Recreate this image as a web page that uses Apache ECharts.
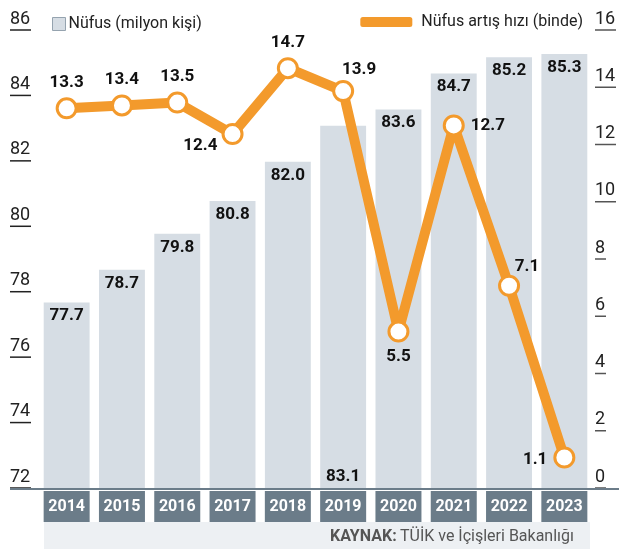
<!DOCTYPE html>
<html>
<head>
<meta charset="utf-8">
<title>Nüfus ve nüfus artış hızı</title>
<script src="https://cdn.jsdelivr.net/npm/echarts@6/dist/echarts.min.js"></script>
<style>
  html, body { margin: 0; padding: 0; background: #fff; }
  #chart { width: 619px; height: 549px; }
</style>
</head>
<body>
<div id="chart"></div>
<script>
// veriler
const years = ['2014', '2015', '2016', '2017', '2018', '2019', '2020', '2021', '2022', '2023']
const population = [77.7, 78.7, 79.8, 80.8, 82.0, 83.1, 83.6, 84.7, 85.2, 85.3]
const growthRate = [13.3, 13.4, 13.5, 12.4, 14.7, 13.9, 5.5, 12.7, 7.1, 1.1]
const popTicks = [72, 74, 76, 78, 80, 82, 84, 86]
const rateTicks = [0, 2, 4, 6, 8, 10, 12, 14, 16]

const FONT = 'Roboto'
const ORANGE = '#f39a2c'
const BAR = '#d6dde4'
const SLATE = '#6b7c89'

// etiket yerleşimleri (nokta başına)
const rateLabelPos = ['top', 'top', 'top', 'left', 'top', 'top', 'bottom', 'right', 'top', 'left']
const rateLabelOffset = [[0, 0], [0, 0], [0, 0], [2, 12], [0, 0], [16, 4], [0, 0], [0, 0], [18, 6], [0, 2]]

// altı çizili eksen etiketi
const tickLabel = (val) => `{v|${val}}\n{u${String(val).length}| }`
const tickRich = (color) => ({
  v: { fontFamily: FONT, fontSize: 18, lineHeight: 20, color: '#222' },
  u1: { width: 11, height: 1.5, lineHeight: 2, fontSize: 1, backgroundColor: color },
  u2: { width: 21, height: 1.5, lineHeight: 2, fontSize: 1, backgroundColor: color }
})

const chart = echarts.init(document.getElementById('chart'))

const option = {
  animation: false,
  textStyle: { fontFamily: FONT },
  grid: { left: 39, right: 24, top: 31, bottom: 60 },
  legend: [
    {
      data: ['Nüfus (milyon kişi)'],
      left: 47, top: 11,
      icon: 'rect', itemWidth: 13, itemHeight: 13,
      itemStyle: { color: BAR, borderColor: '#95a3af', borderWidth: 1 },
      textStyle: { fontFamily: FONT, fontSize: 16, color: '#222', padding: [0, 0, 0, -2] }
    },
    {
      data: ['Nüfus artış hızı (binde)'],
      right: 31, top: 9,
      icon: 'roundRect', itemWidth: 52, itemHeight: 10,
      itemStyle: { color: ORANGE, borderWidth: 0 },
      textStyle: { fontFamily: FONT, fontSize: 16, color: '#222', padding: [0, 0, 0, 4] }
    }
  ],
  xAxis: {
    type: 'category',
    data: years,
    axisLine: { show: false },
    axisTick: { show: false },
    axisLabel: {
      margin: 2,
      color: '#fff',
      fontFamily: FONT,
      fontWeight: 'bold',
      fontSize: 16,
      backgroundColor: SLATE,
      width: 46,
      height: 31,
      lineHeight: 31,
      align: 'center',
      verticalAlign: 'top'
    }
  },
  yAxis: [
    {
      type: 'value',
      min: popTicks[0],
      max: popTicks[popTicks.length - 1],
      interval: 2,
      position: 'left',
      axisLine: { show: false },
      axisTick: { show: false },
      splitLine: { show: false },
      axisLabel: {
        margin: 29,
        align: 'left',
        verticalAlign: 'bottom',
        formatter: tickLabel,
        rich: tickRich('#222')
      }
    },
    {
      type: 'value',
      min: rateTicks[0],
      max: rateTicks[rateTicks.length - 1],
      interval: 2,
      position: 'right',
      axisLine: { show: false },
      axisTick: { show: false },
      splitLine: { show: false },
      axisLabel: {
        margin: 3,
        align: 'left',
        verticalAlign: 'bottom',
        formatter: tickLabel,
        rich: tickRich('#555')
      }
    }
  ],
  series: [
    {
      name: 'Nüfus (milyon kişi)',
      type: 'bar',
      yAxisIndex: 0,
      barCategoryGap: '17%',
      itemStyle: { color: BAR },
      label: {
        show: true,
        position: 'insideTop',
        distance: 5,
        fontFamily: FONT,
        fontWeight: 'bold',
        fontSize: 17,
        color: '#111',
        formatter: (p) => p.value.toFixed(1)
      },
      data: population.map((v, i) => i === 5
        ? { value: v, label: { position: 'insideBottom', distance: 4 } }
        : v)
    },
    {
      name: 'Nüfus artış hızı (binde)',
      type: 'line',
      yAxisIndex: 1,
      z: 5,
      symbol: 'circle',
      symbolSize: 19,
      lineStyle: { color: ORANGE, width: 10 },
      itemStyle: { color: '#fff', borderColor: ORANGE, borderWidth: 3 },
      label: {
        show: true,
        fontFamily: FONT,
        fontWeight: 'bold',
        fontSize: 17,
        color: '#111',
        distance: 6,
        formatter: (p) => p.value.toFixed(1)
      },
      data: growthRate.map((v, i) => ({
        value: v,
        label: { position: rateLabelPos[i], offset: rateLabelOffset[i] }
      }))
    }
  ]
}

chart.setOption(option)

// taban çizgisi ve kaynak bandı
const baseY = Math.round(chart.convertToPixel({ yAxisIndex: 0 }, popTicks[0]))
chart.setOption({
  graphic: [
    {
      type: 'line',
      z: 10,
      shape: { x1: 10, y1: baseY, x2: 619, y2: baseY },
      style: { stroke: SLATE, lineWidth: 2 }
    },
    {
      type: 'rect',
      left: 44, bottom: 0,
      shape: { width: 546, height: 27 },
      style: { fill: '#edf0f3' }
    },
    {
      type: 'text',
      right: 45, bottom: 4,
      style: {
        text: '{b|KAYNAK:} {r|TÜİK ve İçişleri Bakanlığı}',
        rich: {
          b: { fontFamily: FONT, fontWeight: 'bold', fontSize: 16, fill: '#555' },
          r: { fontFamily: FONT, fontSize: 16, fill: '#555' }
        }
      }
    }
  ]
})
</script>
</body>
</html>
